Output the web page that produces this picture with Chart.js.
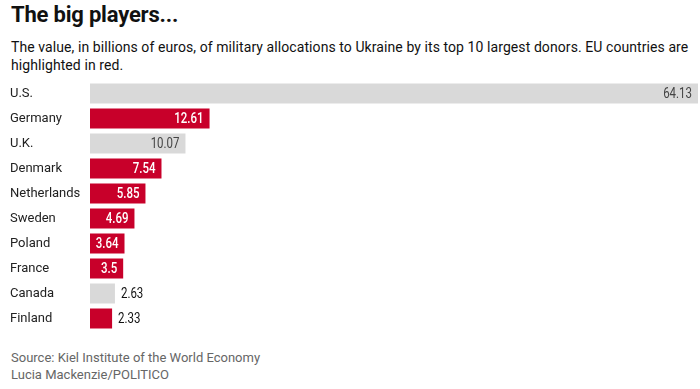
<!DOCTYPE html>
<html lang="en">
<head>
<meta charset="UTF-8">
<title>The big players</title>
<script src="https://cdn.jsdelivr.net/npm/chart.js"></script>
<style>
  body { margin: 0; background: #fff; font-family: Roboto, sans-serif; width: 700px; height: 389px; position: relative; overflow: hidden; }
  h1 { position: absolute; left: 11px; top: 2px; margin: 0; font-size: 22px; font-weight: bold; color: #111; letter-spacing: -0.2px; }
  .sub { position: absolute; left: 11px; top: 38px; font-size: 14px; line-height: 18px; color: #111; letter-spacing: 0.08px; }
  .src { position: absolute; left: 11px; top: 349px; font-size: 13px; line-height: 17px; color: #666; }
  #wrap { position: absolute; left: 0; top: 81px; width: 700px; height: 250px; }
</style>
</head>
<body>
  <h1>The big players...</h1>
  <div class="sub">The value, in billions of euros, of military allocations to Ukraine by its top 10 largest donors. EU countries are<br>highlighted in red.</div>
  <div id="wrap"><canvas id="myChart"></canvas></div>
  <div class="src">Source: Kiel Institute of the World Economy<br>Lucia Mackenzie/POLITICO</div>

<script>
const countries = ['U.S.', 'Germany', 'U.K.', 'Denmark', 'Netherlands', 'Sweden', 'Poland', 'France', 'Canada', 'Finland'];
const values = [64.13, 12.61, 10.07, 7.54, 5.85, 4.69, 3.64, 3.5, 2.63, 2.33];
const inEU = [false, true, false, true, true, true, true, true, false, true];

const red = '#c8002a';
const grey = '#d9d9d9';

// value labels: inside the bar end, or just outside for short bars
// text squeezed horizontally to mimic the condensed font of the original
const squeeze = 0.82;
const valueLabels = {
  id: 'valueLabels',
  afterDatasetsDraw(chart) {
    const ctx = chart.ctx;
    const meta = chart.getDatasetMeta(0);
    meta.data.forEach((bar, i) => {
      const txt = String(values[i]);
      ctx.save();
      ctx.textBaseline = 'middle';
      let x;
      if (values[i] < 3) {
        ctx.font = '14px Roboto, sans-serif';
        ctx.fillStyle = '#111';
        ctx.textAlign = 'left';
        x = bar.x + 6;
      } else {
        ctx.textAlign = 'right';
        if (inEU[i]) {
          ctx.font = '500 14px Roboto, sans-serif';
          ctx.fillStyle = '#fff';
        } else {
          ctx.font = '14px Roboto, sans-serif';
          ctx.fillStyle = '#444';
        }
        x = bar.x - 6;
      }
      ctx.translate(x, bar.y + 1);
      ctx.scale(squeeze, 1);
      ctx.fillText(txt, 0, 0);
      ctx.restore();
    });
  }
};

new Chart(document.getElementById('myChart'), {
  type: 'bar',
  data: {
    labels: countries,
    datasets: [{
      data: values,
      backgroundColor: inEU.map(e => e ? red : grey),
      borderWidth: 0,
      barPercentage: 0.8,
      categoryPercentage: 1
    }]
  },
  options: {
    indexAxis: 'y',
    responsive: true,
    maintainAspectRatio: false,
    animation: false,
    layout: { padding: { left: 10, right: 2, top: 0, bottom: 0 } },
    plugins: { legend: { display: false }, tooltip: { enabled: false } },
    scales: {
      x: { display: false, min: 0, max: 64.13 },
      y: {
        grid: { display: false },
        border: { display: false },
        afterFit(scale) {
          scale.width = 80;
          scale.paddingTop = 0;
          scale.paddingBottom = 0;
        },
        ticks: {
          crossAlign: 'far',
          padding: 0,
          color: '#222',
          font: { family: 'Roboto', size: 13 }
        }
      }
    }
  },
  plugins: [valueLabels]
});
</script>
</body>
</html>
